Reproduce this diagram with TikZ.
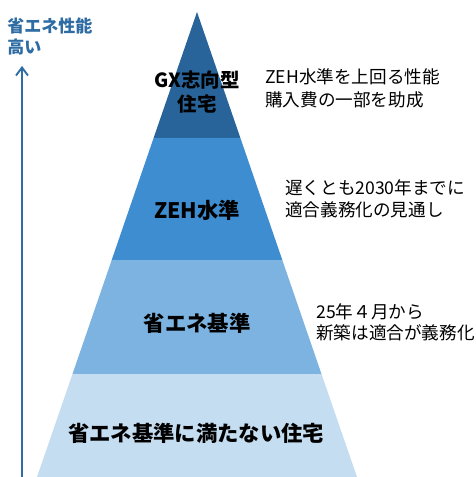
\documentclass[tikz,border=0pt]{standalone}
\usepackage{fontspec}
\setmainfont{Noto Sans CJK JP}
\usetikzlibrary{arrows.meta}
\begin{document}
\begin{tikzpicture}[x=0.75pt,y=-0.75pt,
    bandlabel/.style={inner sep=0pt,align=center,font=\bfseries\fontsize{16}{18}\selectfont},
    sidenote/.style={inner sep=0pt,anchor=west,align=left,font=\fontsize{13.2}{16.5}\selectfont}]
            \useasboundingbox (0,0) rectangle (475,477);

            % Changing colors of the bands
            \definecolor{bandgx}{HTML}{28649A}%
            \definecolor{bandzeh}{HTML}{3F8DD1}%
            \definecolor{bandbase}{HTML}{7DB3E0}%
            \definecolor{bandlow}{HTML}{C5DDF1}%
            \definecolor{axisblue}{HTML}{2E6CA3}%

            % Drawing band GX (apex)
            \fill [bandgx] (197,12) -- (240.4,138) -- (153.6,138) -- cycle;%

            % Drawing band ZEH
            \fill [bandzeh] (153.6,138) -- (240.4,138) -- (282.3,260) -- (111.7,260) -- cycle;%

            % Drawing band base
            \fill [bandbase] (111.7,260) -- (282.3,260) -- (321.5,374) -- (72.5,374) -- cycle;%

            % Drawing band low
            \fill [bandlow] (72.5,374) -- (321.5,374) -- (357,477) -- (37,477) -- cycle;%

            % Drawing axis arrow
            \coordinate (axisfoot) at (22,477);
            \coordinate (axistip) at (22,66);
            \draw [axisblue, line width=1.7pt, -{Straight Barb[length=6pt,width=9pt,line width=1.4pt]}] (axisfoot) -- (axistip);%

            % Marking axis label
            \node [inner sep=0pt, anchor=north west, align=left, text=axisblue,
                   font=\bfseries\fontsize{12.75}{15.75}\selectfont] (axislabel) at (7,18) {省エネ性能\\高い};%

            % Marking band labels
            \node [bandlabel, font=\bfseries\fontsize{14.6}{18}\selectfont] (gxlabel) at (197,92) {GX志向型\\住宅};%
            \node [bandlabel] (zehlabel) at (197,210) {ZEH水準};%
            \node [bandlabel] (baselabel) at (197,323) {省エネ基準};%
            \node [bandlabel] (lowlabel) at (196,433) {省エネ基準に満たない住宅};%

            % Marking side notes
            \node [sidenote, font=\fontsize{13.2}{17.25}\selectfont] (gxnote) at (265,88.5) {ZEH水準を上回る性能\\購入費の一部を助成};%
            \node [sidenote] (zehnote) at (285,199) {遅くとも2030年までに\\適合義務化の見通し};%
            \node [sidenote, font=\fontsize{13.2}{15.75}\selectfont] (basenote) at (316,322.5) {25年４月から\\新築は適合が義務化};%
\end{tikzpicture}
\end{document}
